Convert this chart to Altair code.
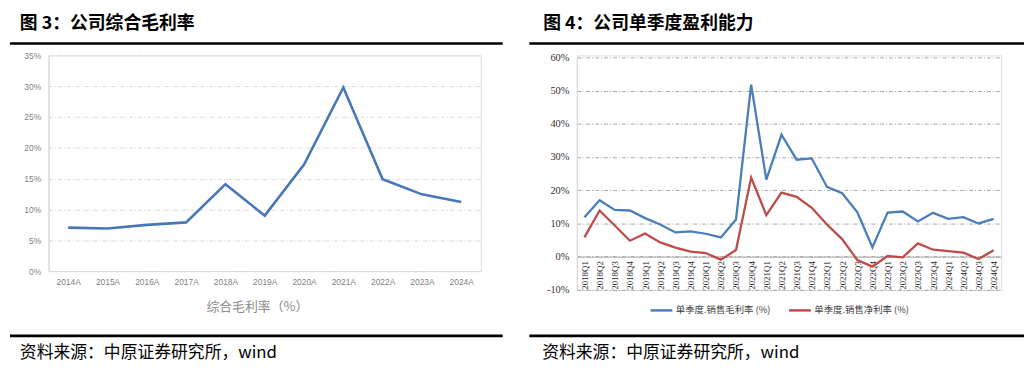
import altair as alt
import pandas as pd

# ---------------- data ----------------
years = ["2014A", "2015A", "2016A", "2017A", "2018A", "2019A",
         "2020A", "2021A", "2022A", "2023A", "2024A"]
gross_margin = [7.05, 6.9, 7.5, 7.9, 14.1, 9.0, 17.3, 29.8, 14.9, 12.45, 11.2]

quarters = ["2018Q1", "2018Q2", "2018Q3", "2018Q4",
            "2019Q1", "2019Q2", "2019Q3", "2019Q4",
            "2020Q1", "2020Q2", "2020Q3", "2020Q4",
            "2021Q1", "2021Q2", "2021Q3", "2021Q4",
            "2022Q1", "2022Q2", "2022Q3", "2022Q4",
            "2023Q1", "2023Q2", "2023Q3", "2023Q4",
            "2024Q1", "2024Q2", "2024Q3", "2024Q4"]
q_gross = [11.9, 17.0, 14.1, 13.9, 11.6, 9.7, 7.3, 7.6, 6.9, 5.8, 11.2, 51.8,
           23.2, 36.7, 29.2, 29.6, 21.0, 19.1, 13.4, 2.8, 13.3, 13.6, 10.6, 13.2,
           11.4, 11.9, 10.0, 11.4]
q_net = [5.8, 13.9, 9.4, 4.8, 7.0, 4.3, 2.7, 1.5, 1.1, -0.9, 2.0, 23.8,
         12.5, 19.3, 18.0, 14.7, 9.7, 5.3, -1.0, -3.0, 0.2, -0.2, 4.0, 2.1,
         1.7, 1.2, -0.7, 1.9]
series_names = ["单季度.销售毛利率 (%)", "单季度.销售净利率 (%)"]
series_colors = ["#4a7ebb", "#be4b48"]

left_ticks = [0, 5, 10, 15, 20, 25, 30, 35]
right_ticks = [-10, 0, 10, 20, 30, 40, 50, 60]

title_left = "图 3：公司综合毛利率"
title_right = "图 4：公司单季度盈利能力"
axis_title_left = "综合毛利率（%）"
source_text = "资料来源：中原证券研究所，wind"

CJK = "Noto Sans CJK SC"

# ---------------- helpers ----------------
def text_layer(txt, x, y, size, color="#000000", weight="normal", align="left",
               baseline="middle", font=CJK):
    return alt.Chart(pd.DataFrame({"t": [txt]})).mark_text(
        align=align, baseline=baseline, fontSize=size, font=font,
        fontWeight=weight, color=color
    ).encode(x=alt.value(x), y=alt.value(y), text="t:N")

def rule_layer(x1, x2, y, width=2.7):
    return alt.Chart(pd.DataFrame({"a": [0]})).mark_rule(
        color="#000000", strokeWidth=width
    ).encode(x=alt.value(x1), x2=alt.value(x2), y=alt.value(y))

# ---------------- left panel ----------------
df_left = pd.DataFrame({"year": years, "val": gross_margin})

LW, LH = 437, 218

left_line = alt.Chart(df_left).mark_line(color="#4677b8", strokeWidth=2.6).encode(
    x=alt.X("year:O", sort=years,
            axis=alt.Axis(title=None, labelAngle=0, ticks=False, domainColor="#d9d9d9",
                          labelColor="#7f7f7f", labelFont="Liberation Sans",
                          labelFontSize=8.5, labelPadding=7, grid=False)),
    y=alt.Y("val:Q", scale=alt.Scale(domain=[0, 35], nice=False),
            axis=alt.Axis(title=None, values=left_ticks, labelExpr="datum.value + '%'",
                          ticks=False, domainColor="#d9d9d9", gridColor="#d9d9d9",
                          gridDash=[4, 2, 1, 2], labelColor="#7f7f7f",
                          labelFont="Liberation Sans", labelFontSize=8.5, labelPadding=8)),
)

left = alt.layer(
    left_line,
    text_layer(title_left, -29, -41, 18, weight="bold", baseline="top"),
    rule_layer(-39, 459, -12),
    text_layer(axis_title_left, 211, 254, 13, color="#8c8c8c", align="center"),
    rule_layer(-39, 459, 283.5),
    text_layer(source_text, -29, 301, 17),
).properties(width=LW, height=LH)

# ---------------- right panel ----------------
rows = []
for q, g, n in zip(quarters, q_gross, q_net):
    rows.append({"q": q, "series": series_names[0], "val": g})
    rows.append({"q": q, "series": series_names[1], "val": n})
df_right = pd.DataFrame(rows)

RW, RH = 429, 237
R_TOP = 2
zero_offset = -(RH - (R_TOP + (RH - R_TOP) * 60 / 70))

right_lines = alt.Chart(df_right).mark_line(strokeWidth=2.3).encode(
    x=alt.X("q:O", sort=quarters,
            axis=alt.Axis(title=None, labelAngle=-90, ticks=False, domainColor="#a6a6a6",
                          offset=zero_offset, labelColor="#222222",
                          labelFont="Liberation Serif", labelFontSize=9,
                          labelPadding=4, grid=False)),
    y=alt.Y("val:Q", scale=alt.Scale(domain=[-10, 60], nice=False, range=[RH, R_TOP]),
            axis=alt.Axis(title=None, values=right_ticks, labelExpr="datum.value + '%'",
                          ticks=False, domainColor="#d9d9d9", gridColor="#a6a6a6",
                          gridDash=[4, 2, 1, 2], labelColor="#333333",
                          labelFont="Liberation Serif", labelFontSize=10.5,
                          labelPadding=8)),
    color=alt.Color("series:N", sort=series_names,
                    scale=alt.Scale(domain=series_names, range=series_colors),
                    legend=alt.Legend(title=None, orient="none", legendX=73, legendY=245,
                                      direction="horizontal", symbolType="stroke",
                                      symbolSize=484, symbolStrokeWidth=2.5,
                                      labelFont=CJK, labelFontSize=9.5,
                                      labelColor="#404040", labelOffset=2,
                                      columnPadding=13, padding=0)),
)

right = alt.layer(
    right_lines,
    text_layer(title_right, -34, -41, 18, weight="bold", baseline="top"),
    rule_layer(-48, 452, -12),
    rule_layer(-48, 452, 283.5),
    text_layer(source_text, -35, 301, 17),
).properties(width=RW, height=RH)

chart = alt.hconcat(left, right, spacing=23).resolve_legend(
    color="independent"
).properties(
    padding={"left": 0, "top": 4, "right": 0, "bottom": 0}
).configure_view(stroke=None).configure(background="#ffffff")

chart.save("out.html", embed_options={"renderer": "svg", "actions": False})
